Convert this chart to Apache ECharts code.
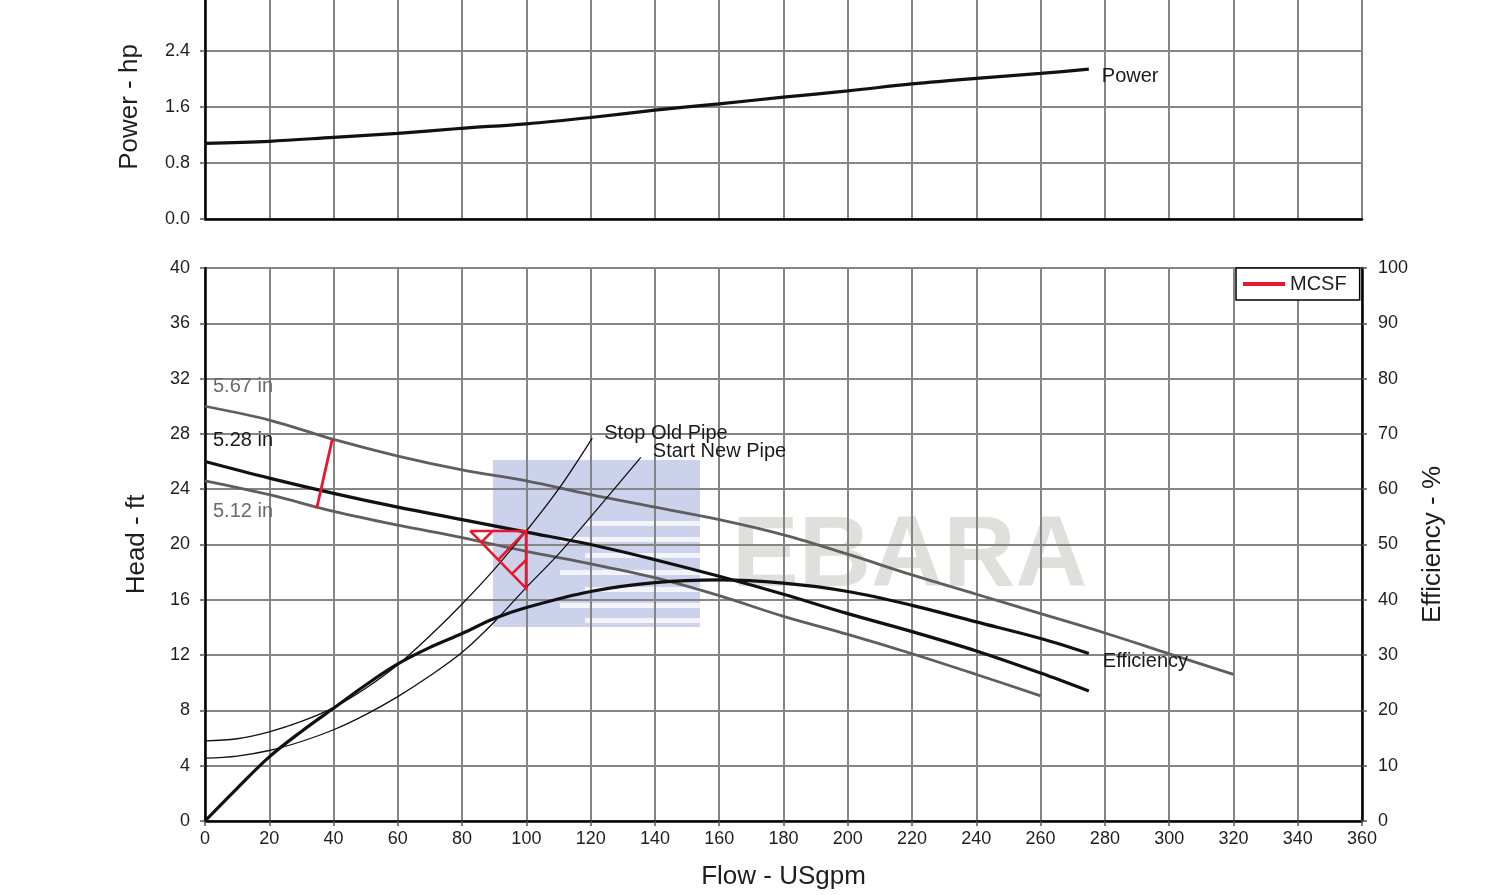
<!DOCTYPE html>
<html><head><meta charset="utf-8">
<script src="https://cdn.jsdelivr.net/npm/echarts@6/dist/echarts.min.js"></script>
<style>html,body{margin:0;padding:0;background:#fff;overflow:hidden}#c{width:1493px;height:900px;margin-top:-5px}</style>
</head><body><div id="c"></div>
<script>
// ---- axes ----
const flowMin = 0, flowMax = 360, flowStep = 20;
const headMin = 0, headMax = 40, headStep = 4;
const effMin = 0, effMax = 100, effStep = 10;
const powerMin = 0, powerMax = 3.2, powerStep = 0.8;

// ---- impeller head curves (flow USgpm, head ft) ----
const head567Flow = [0,20,40,60,80,100,120,140,160,180,200,220,240,260,280,300,320];
const head567     = [30.0,29.0,27.6,26.4,25.4,24.6,23.6,22.7,21.8,20.7,19.3,17.8,16.4,15.0,13.6,12.1,10.6];
const head528Flow = [0,20,40,60,80,100,120,140,160,180,200,220,240,260,275];
const head528     = [26.0,24.8,23.7,22.7,21.8,20.9,20.0,18.9,17.7,16.4,15.0,13.7,12.3,10.7,9.4];
const head512Flow = [0,20,40,60,80,100,120,140,160,180,200,220,240,260];
const head512     = [24.6,23.6,22.4,21.4,20.5,19.5,18.6,17.6,16.3,14.8,13.5,12.1,10.6,9.05];

// ---- efficiency (%) ----
const effFlow = [0,10,20,30,40,50,60,70,80,90,100,120,140,160,180,200,220,240,260,275];
const effVal  = [0,5.9,11.6,16.2,20.4,24.6,28.4,31.4,33.9,36.6,38.6,41.5,43.1,43.6,43.0,41.5,39.0,36.0,33.0,30.3];

// ---- power (hp) ----
const powerFlow = [0,20,40,60,80,100,120,140,160,180,200,220,240,260,275];
const powerVal  = [1.08,1.11,1.167,1.224,1.296,1.36,1.45,1.555,1.645,1.74,1.83,1.93,2.01,2.08,2.14];

// ---- system curves (head ft) ----
const stopOldFlow  = [0,10,20,30,40,50,60,70,80,90,100,110,120.5];
const stopOldHead  = [5.8,5.95,6.45,7.2,8.2,9.6,11.3,13.4,15.7,18.2,20.98,24.0,27.7];
const startNewFlow = [0,10,20,30,40,50,60,70,80,90,100,110,120,135.6];
const startNewHead = [4.55,4.7,5.1,5.75,6.6,7.7,9.0,10.5,12.2,14.4,16.9,19.3,22.0,26.3];

// ---- MCSF marks ----
const mcsfLine = [[34.75,22.6],[39.6,27.6]];
const mcsfTriangle = [[82.5,20.98],[99.9,20.98],[99.9,16.83],[82.5,20.98]];
const mcsfHatch = [
  [[99.9,20.98],[91.2,18.88]],
  [[89.5,20.98],[85.9,20.14]],
  [[99.9,18.88],[95.5,17.87]]
];

// ---- texts ----
const diaLabels = ['5.67 in','5.28 in','5.12 in'];
const xTitle = 'Flow - USgpm', headTitle = 'Head - ft', effTitle = 'Efficiency - %', powerTitle = 'Power - hp';

const zip = (xs, ys) => xs.map((x, i) => [x, ys[i]]);
const FONT = '"Liberation Sans", Arial, sans-serif';
const RED = '#e8182c';
const GRIDC = '#858585';
const OY = 5; // page is shifted up by 5px

const chart = echarts.init(document.getElementById('c'), null, {renderer: 'canvas'});

function endLbl(text, off) {
  return {show: true, formatter: text, offset: off, color: '#1a1a1a', fontSize: 20, fontFamily: FONT, distance: 0};
}
function mk(text, pt, color, off) {
  return {
    symbol: 'circle', symbolSize: 0, silent: true, animation: false,
    data: [{coord: pt}],
    label: {show: true, position: 'right', formatter: text, color: color, fontSize: 20, fontFamily: FONT, offset: off, distance: 0}
  };
}

const c567 = zip(head567Flow, head567), c528 = zip(head528Flow, head528), c512 = zip(head512Flow, head512);
const baseLine = {type: 'line', showSymbol: false, symbol: 'none', silent: true, animation: false};
const SM = 0.35;

const series = [
  Object.assign({}, baseLine, {name: 'Power', xAxisIndex: 0, yAxisIndex: 0, smooth: SM,
    data: zip(powerFlow, powerVal), lineStyle: {color: '#111', width: 3.2},
    endLabel: endLbl('Power', [13, 7])}),
  Object.assign({}, baseLine, {name: '5.67', xAxisIndex: 1, yAxisIndex: 1, smooth: SM,
    data: c567, lineStyle: {color: '#5e5e5e', width: 2.8},
    markPoint: mk(diaLabels[0], c567[0], '#6a6a6a', [8, -20])}),
  Object.assign({}, baseLine, {name: '5.28', xAxisIndex: 1, yAxisIndex: 1, smooth: SM,
    data: c528, lineStyle: {color: '#111', width: 3.2},
    markPoint: mk(diaLabels[1], c528[0], '#1a1a1a', [8, -21])}),
  Object.assign({}, baseLine, {name: '5.12', xAxisIndex: 1, yAxisIndex: 1, smooth: SM,
    data: c512, lineStyle: {color: '#5e5e5e', width: 2.8},
    markPoint: mk(diaLabels[2], c512[0], '#6a6a6a', [8, 31])}),
  Object.assign({}, baseLine, {name: 'Efficiency', xAxisIndex: 1, yAxisIndex: 2, smooth: SM,
    data: zip(effFlow, effVal), lineStyle: {color: '#111', width: 3.2},
    endLabel: endLbl('Efficiency', [14, 8])}),
  Object.assign({}, baseLine, {name: 'Stop Old Pipe', xAxisIndex: 1, yAxisIndex: 1, smooth: SM,
    data: zip(stopOldFlow, stopOldHead), lineStyle: {color: '#111', width: 1.3},
    endLabel: endLbl('Stop Old Pipe', [12, -5])}),
  Object.assign({}, baseLine, {name: 'Start New Pipe', xAxisIndex: 1, yAxisIndex: 1, smooth: SM,
    data: zip(startNewFlow, startNewHead), lineStyle: {color: '#111', width: 1.3},
    endLabel: endLbl('Start New Pipe', [12, -6])}),
  Object.assign({}, baseLine, {name: 'MCSF', xAxisIndex: 1, yAxisIndex: 1, data: mcsfLine,
    lineStyle: {color: RED, width: 2.8}, itemStyle: {color: RED}}),
  Object.assign({}, baseLine, {name: 'MCSF tri', xAxisIndex: 1, yAxisIndex: 1, data: mcsfTriangle,
    lineStyle: {color: RED, width: 2.6, join: 'miter'}, itemStyle: {color: RED}})
];
mcsfHatch.forEach((seg, i) => series.push(Object.assign({}, baseLine, {name: 'MCSF h' + i, xAxisIndex: 1, yAxisIndex: 1,
  data: seg, lineStyle: {color: RED, width: 2.6}, itemStyle: {color: RED}})));

const axisLbl = {color: '#1e1e1e', fontSize: 18, fontFamily: FONT, showMaxLabel: true, showMinLabel: true};
const splitL = {show: true, lineStyle: {color: GRIDC, width: 2}};
const axLine = {show: true, lineStyle: {color: '#000', width: 2.5}};
const tick = {show: true, length: 5, lineStyle: {color: '#555', width: 1.5}};
const nameStyle = {color: '#1e1e1e', fontSize: 26, fontFamily: FONT};

// watermark (decoration, translucent so grid shows through)
const wmBlue = 'rgba(120,136,205,0.38)';
const stripes = [521, 537, 553, 570, 587, 603, 618];
const wm = [
  {type: 'rect', shape: {x: 493, y: 460 + OY, width: 207, height: 167}, style: {fill: wmBlue}, silent: true}
].concat(stripes.map((y, i) => ({type: 'rect', shape: {x: (i % 2 ? 560 : 585), y: y + OY, width: 700 - (i % 2 ? 560 : 585), height: 5}, style: {fill: 'rgba(255,255,255,0.75)'}, silent: true})))
 .concat([{type: 'text', x: 732, y: 508 + OY, silent: true,
   style: {text: 'EBARA', fill: 'rgba(185,185,178,0.45)', font: 'bold 100px "Liberation Sans", Arial, sans-serif', textAlign: 'left', textVerticalAlign: 'top'}}]);

chart.setOption({
  animation: false,
  backgroundColor: '#fff',
  graphic: wm,
  legend: {
    data: ['MCSF'], left: 1236, top: 268 + OY, orient: 'horizontal',
    icon: 'rect', itemWidth: 42, itemHeight: 4, itemGap: 7,
    borderColor: '#000', borderWidth: 1.5, borderRadius: 0, backgroundColor: '#fff',
    padding: [6, 13, 6, 7],
    textStyle: {color: '#1e1e1e', fontSize: 20, fontFamily: FONT},
    selectedMode: false, z: 10
  },
  grid: [
    {left: 205, width: 1157, top: 0, height: 224, show: true, borderColor: '#000', borderWidth: 2, backgroundColor: 'transparent', containLabel: false, outerBoundsMode: 'none'},
    {left: 205, width: 1157, top: 268 + OY, height: 553, show: true, borderColor: '#000', borderWidth: 2, backgroundColor: 'transparent', containLabel: false, outerBoundsMode: 'none'}
  ],
  xAxis: [
    {type: 'value', gridIndex: 0, min: flowMin, max: flowMax, interval: flowStep,
     axisLabel: {show: false}, axisTick: {show: false}, axisLine: axLine, splitLine: splitL},
    {type: 'value', gridIndex: 1, min: flowMin, max: flowMax, interval: flowStep,
     axisLabel: Object.assign({margin: 9}, axisLbl), axisTick: tick, axisLine: axLine, splitLine: splitL,
     name: xTitle, nameLocation: 'middle', nameGap: 43, nameTextStyle: nameStyle}
  ],
  yAxis: [
    {type: 'value', gridIndex: 0, min: powerMin, max: powerMax, interval: powerStep,
     axisLabel: Object.assign({margin: 15, formatter: v => v.toFixed(1)}, axisLbl), axisTick: tick, axisLine: axLine, splitLine: splitL,
     name: powerTitle, nameLocation: 'middle', nameGap: 62, nameTextStyle: nameStyle},
    {type: 'value', gridIndex: 1, min: headMin, max: headMax, interval: headStep,
     axisLabel: Object.assign({margin: 15}, axisLbl), axisTick: tick, axisLine: axLine, splitLine: splitL,
     name: headTitle, nameLocation: 'middle', nameGap: 55, nameTextStyle: nameStyle},
    {type: 'value', gridIndex: 1, position: 'right', min: effMin, max: effMax, interval: effStep,
     axisLabel: Object.assign({margin: 16}, axisLbl), axisTick: tick, axisLine: axLine, splitLine: {show: false},
     name: effTitle, nameLocation: 'middle', nameGap: 58, nameTextStyle: nameStyle}
  ],
  series: series
});
</script></body></html>
